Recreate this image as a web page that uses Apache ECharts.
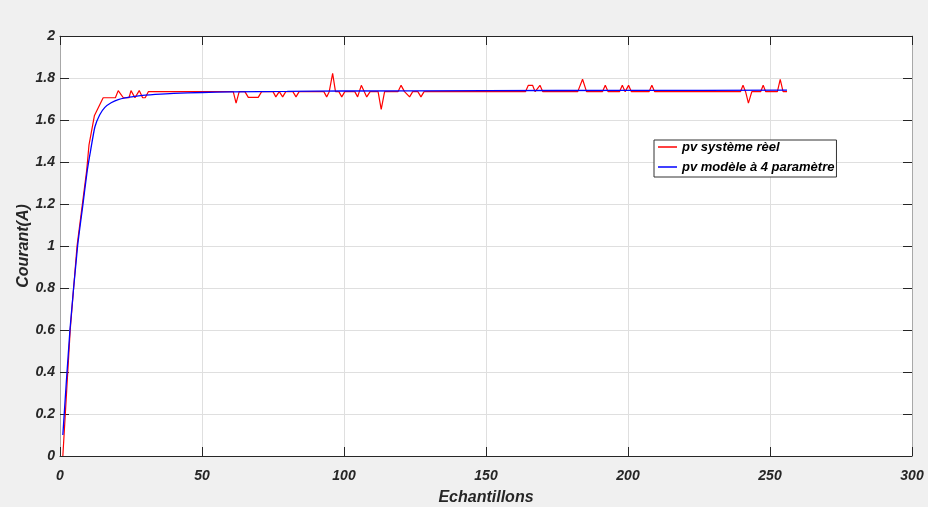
<!DOCTYPE html>
<html>
<head>
<meta charset="utf-8">
<script src="https://cdn.jsdelivr.net/npm/echarts@6/dist/echarts.min.js"></script>
<style>
html,body{margin:0;padding:0;background:#f0f0f0;}
#chart{width:928px;height:507px;}
</style>
</head>
<body>
<div id="chart"></div>
<script>
// Series names
var seriesNames = ['pv système rèel', 'pv modèle à 4 paramètre'];

// Red: real system (x = sample index, y = current in A)
var realX = [1, 3.6, 6, 9.4, 10.2, 12.1, 15.2, 19.5, 20.5, 22.3, 24.3, 25, 26.4, 27.9, 29.1, 30, 31.1,
  61, 62, 63.1, 65.1, 66.3, 69.8, 71, 75, 76, 77.2, 78.4, 79.5, 82, 83.1, 84.2,
  92.9, 93.9, 94.8, 96, 97, 98.2, 99.2, 100.3, 103.8, 104.8, 106.1, 108, 109.2,
  112, 113.1, 114.3, 119, 120.1, 121.3, 122, 123.1, 124.2, 126, 127.1, 128.2,
  163.9, 164.9, 166.4, 167.3, 168, 169, 170, 182.3, 184, 185.4, 191, 192, 193,
  197, 198, 199, 200.2, 201.2, 207.4, 208.4, 209.4, 239.6, 240.5, 241.4, 242.4, 243.6,
  246.7, 247.6, 248.5, 252.6, 253.6, 254.6, 256];
var realY = [0, 0.6, 1.0, 1.36, 1.48, 1.62, 1.706, 1.706, 1.74, 1.706, 1.706, 1.74, 1.706, 1.74, 1.706, 1.706, 1.735,
  1.735, 1.68, 1.735, 1.735, 1.708, 1.708, 1.735, 1.735, 1.71, 1.735, 1.71, 1.735, 1.735, 1.71, 1.735,
  1.735, 1.71, 1.735, 1.822, 1.735, 1.735, 1.71, 1.735, 1.735, 1.71, 1.765, 1.71, 1.735,
  1.735, 1.651, 1.735, 1.735, 1.765, 1.735, 1.735, 1.71, 1.735, 1.735, 1.71, 1.735,
  1.735, 1.765, 1.765, 1.735, 1.735, 1.765, 1.735, 1.735, 1.794, 1.735, 1.735, 1.765, 1.735,
  1.735, 1.765, 1.735, 1.765, 1.735, 1.735, 1.765, 1.735, 1.735, 1.765, 1.735, 1.68, 1.735,
  1.735, 1.765, 1.735, 1.735, 1.794, 1.735, 1.735];

// Blue: 4-parameter model
var modelX = [1, 3.5, 6.2, 8, 9.6, 10.8, 12.3, 14, 15.8, 18, 20.5, 23, 26.4, 30, 33.5, 40, 50, 60, 80, 100, 150, 200, 256];
var modelY = [0.1, 0.6, 1.0, 1.19, 1.36, 1.457, 1.568, 1.625, 1.66, 1.682, 1.697, 1.705, 1.712, 1.718, 1.722, 1.727, 1.731, 1.734, 1.736, 1.738, 1.74, 1.741, 1.742];

// Axis ranges
var xMin = 0, xMax = 300, xStep = 50;
var yMin = 0, yMax = 2, yStep = 0.2;

function zip(a, b) { return a.map(function (v, i) { return [v, b[i]]; }); }

var font = "'Liberation Sans', Arial, sans-serif";
var dark = '#262626';
var chart = echarts.init(document.getElementById('chart'), null, { renderer: 'canvas' });
chart.setOption({
  backgroundColor: '#f0f0f0',
  animation: false,
  grid: { left: 60, right: 16, top: 36, bottom: 51, containLabel: false, outerBoundsMode: 'none',
    show: true, backgroundColor: '#ffffff', borderWidth: 0 },
  legend: {
    data: seriesNames,
    orient: 'vertical',
    left: 654, top: 140,
    padding: [0, 2, 3, 4],
    icon: 'rect',
    itemWidth: 19, itemHeight: 1.5, itemGap: 6,
    backgroundColor: '#ffffff',
    borderColor: '#333333', borderWidth: 1,
    textStyle: { fontFamily: font, fontSize: 13, lineHeight: 14, fontWeight: 'bold', fontStyle: 'italic', color: '#000' }
  },
  xAxis: [{
    type: 'value', min: xMin, max: xMax, interval: xStep, position: 'bottom',
    name: 'Echantillons', nameLocation: 'middle', nameGap: 34,
    nameTextStyle: { fontFamily: font, fontSize: 16, fontWeight: 'bold', fontStyle: 'italic', color: dark },
    axisLine: { onZero: false, lineStyle: { color: dark, width: 1 } },
    axisTick: { inside: true, length: 9, lineStyle: { color: dark } },
    axisLabel: { margin: 13, fontFamily: font, fontSize: 14, fontWeight: 'bold', fontStyle: 'italic', color: dark },
    splitLine: { show: true, lineStyle: { color: '#dfdfdf', width: 1 } }
  }, {
    type: 'value', min: xMin, max: xMax, interval: xStep, position: 'top',
    axisLine: { onZero: false, lineStyle: { color: dark, width: 1 } },
    axisTick: { inside: true, length: 9, lineStyle: { color: dark } },
    axisLabel: { show: false }, splitLine: { show: false }
  }],
  yAxis: [{
    type: 'value', min: yMin, max: yMax, interval: yStep, position: 'left',
    name: 'Courant(A)', nameLocation: 'middle', nameGap: 28, nameMoveOverlap: false,
    nameTextStyle: { fontFamily: font, fontSize: 16, fontWeight: 'bold', fontStyle: 'italic', color: dark },
    axisLine: { onZero: false, lineStyle: { color: '#a8a8a8', width: 1 } },
    axisTick: { inside: true, length: 9, lineStyle: { color: dark } },
    axisLabel: { margin: 5, fontFamily: font, fontSize: 14, fontWeight: 'bold', fontStyle: 'italic', color: dark },
    splitLine: { show: true, lineStyle: { color: '#dfdfdf', width: 1 } }
  }, {
    type: 'value', min: yMin, max: yMax, interval: yStep, position: 'right',
    axisLine: { onZero: false, lineStyle: { color: '#a8a8a8', width: 1 } },
    axisTick: { inside: true, length: 9, lineStyle: { color: dark } },
    axisLabel: { show: false }, splitLine: { show: false }
  }],
  series: [{
    name: seriesNames[0], type: 'line', symbol: 'none', xAxisIndex: 0, yAxisIndex: 0,
    data: zip(realX, realY),
    lineStyle: { color: '#ff0000', width: 1.2 }, itemStyle: { color: '#ff0000' }
  }, {
    name: seriesNames[1], type: 'line', symbol: 'none', xAxisIndex: 0, yAxisIndex: 0,
    data: zip(modelX, modelY), smooth: 0.2,
    lineStyle: { color: '#0000ff', width: 1.3 }, itemStyle: { color: '#0000ff' }
  }]
});
</script>
</body>
</html>
